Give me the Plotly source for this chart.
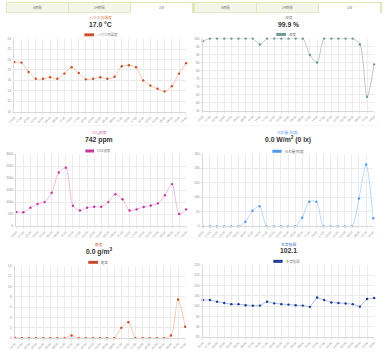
import plotly.graph_objects as go

W, H = 384, 353

# ---------------- data ----------------
time_labels = ["14:00", "17:00", "20:00", "23:00", "02:00", "05:00", "08:00", "11:00",
               "14:00", "17:00", "20:00", "23:00", "02:00", "05:00", "08:00", "11:00",
               "14:00", "17:00", "20:00", "23:00", "02:00", "05:00", "08:00", "11:00",
               "14:00"]
tab_labels = ["6時間", "24時間", "3日"]

temperature = [19.5, 19.4, 17.6, 16.3, 16.3, 16.6, 16.3, 17.3, 18.5, 17.4, 16.2, 16.3, 16.6,
               16.3, 16.7, 18.7, 18.9, 18.5, 16.0, 15.0, 14.4, 13.9, 14.9, 17.3, 19.3]
humidity = [98.4, 100, 100, 100, 100, 100, 100, 100, 96.3, 100, 100, 100, 100,
            100, 100, 89.8, 85.1, 100, 100, 100, 100, 100, 96.3, 63.7, 83.9]
co2 = [600, 590, 780, 930, 1010, 1400, 2240, 2440, 860, 660, 780, 820, 820,
       1010, 1340, 1130, 660, 710, 810, 870, 960, 1300, 1760, 520, 710]
solar = [0, 0, 0, 0, 0, 0, 16, 54, 69, 0, 0, 0, 0,
         0, 30, 85, 85, 0, 0, 0, 0, 0, 96, 213, 28]
deficit = [0.1, 0, 0, 0, 0, 0, 0, 0, 0.5, 0, 0, 0, 0,
           0, 0, 2.0, 3.1, 0, 0, 0, 0, 0, 0.5, 7.5, 2.2]
growth = [103.0, 103.0, 102.2, 101.6, 101.0, 101.0, 100.5, 100.2, 100.3, 102.2, 101.4, 101.0, 100.8,
          100.5, 100.3, 99.7, 104.2, 103.0, 101.8, 101.6, 101.3, 101.0, 99.8, 103.5, 104.0]

titles = ["ハウス内温度", "湿度", "CO<sub>2</sub>濃度", "日射量(照度)", "飽差", "生育指標"]
series_names = ["ハウス内温度", "湿度", "CO2濃度", "日射量(照度)", "飽差", "生育指標"]
current_values = ["17.0 °C", "99.9 %", "742 ppm", "0.0 W/m<sup>2</sup> (0 lx)",
                  "0.0 g/m<sup>3</sup>", "102.1"]
series = [temperature, humidity, co2, solar, deficit, growth]

# ---------------- styles ----------------
FONT = "Liberation Sans, Arial, Noto Sans CJK JP, sans-serif"
JFONT = "Noto Sans CJK JP, Liberation Sans, sans-serif"

styles = [
    dict(line="#f3c2a8", marker="#c9532c", title="#e0784a", yr=[10, 24], dt=2,
         area=(8.5, 184, 37, 111), ty=15.7, vy=22.7, cx=96, lb=(80, 90, 33.2), shape="spline"),
    dict(line="#bcc0bf", marker="#6f9994", title="#8a8a8a", yr=[55, 100], dt=5,
         area=(201, 376, 37, 110), ty=15.7, vy=22.7, cx=289, lb=(276, 286, 32.8), shape="spline"),
    dict(line="#ebb3dc", marker="#c4389d", title="#c865b4", yr=[0, 3000], dt=500,
         area=(10.5, 184, 154, 227), ty=132, vy=139.3, cx=95, lb=(81, 90, 150.7), shape="spline"),
    dict(line="#b5d4f7", marker="#4e98ee", title="#6ea5ef", yr=[0, 250], dt=50,
         area=(201, 375, 153.5, 227), ty=131.7, vy=139, cx=288, lb=(272, 281.5, 151), shape="spline"),
    dict(line="#f3c3ad", marker="#c8492a", title="#d2643f", yr=[0, 14], dt=2,
         area=(9, 183, 267, 340), ty=245, vy=252.7, cx=95, lb=(84, 94, 263.3), shape="spline"),
    dict(line="#aabbea", marker="#1f3a94", title="#4a6ac4", yr=[85, 120], dt=5,
         area=(201, 376, 266, 339), ty=245, vy=251.5, cx=288, lb=(273, 282.5, 262.3), shape="linear"),
]


def fx(x):
    return x / W


def fy(y):
    return 1 - y / H


fig = go.Figure()
shapes = []
annotations = []
xs = list(range(len(time_labels)))

for i, (data, st) in enumerate(zip(series, styles)):
    k = "" if i == 0 else str(i + 1)
    x0, x1, y0, y1 = st["area"]
    fig.add_trace(go.Scatter(
        x=xs, y=data, name=series_names[i], mode="lines+markers",
        line=dict(color=st["line"], width=0.9, shape=st["shape"], smoothing=0.8),
        marker=dict(color=st["marker"], size=2.4),
        xaxis="x" + k, yaxis="y" + k, showlegend=False, cliponaxis=False,
        hovertemplate="%{y}<extra></extra>",
    ))
    fig.layout["xaxis" + k] = dict(
        domain=[fx(x0), fx(x1)], anchor="y" + k, range=[0, len(xs) - 1],
        tickmode="array", tickvals=xs, ticktext=time_labels, tickangle=-45,
        tickfont=dict(size=3, color="#888", family=FONT),
        showgrid=True, gridcolor="#ececec", gridwidth=0.5,
        showline=True, linecolor="#d8d8d8", linewidth=0.6,
        ticks="outside", ticklen=2, tickcolor="#ececec", zeroline=False, fixedrange=True,
    )
    fig.layout["yaxis" + k] = dict(
        domain=[fy(y1), fy(y0)], anchor="x" + k, range=st["yr"], dtick=st["dt"],
        tickfont=dict(size=3, color="#888", family=FONT),
        showgrid=True, gridcolor="#ececec", gridwidth=0.5,
        showline=True, linecolor="#d8d8d8", linewidth=0.6,
        ticks="outside", ticklen=2, tickcolor="#ececec", zeroline=False, fixedrange=True,
    )
    # title and current value
    annotations.append(dict(x=fx(st["cx"]), y=fy(st["ty"]), xref="paper", yref="paper",
                            text=titles[i], showarrow=False, xanchor="center", yanchor="middle",
                            font=dict(size=3.8, color=st["title"], family=JFONT)))
    annotations.append(dict(x=fx(st["cx"]), y=fy(st["vy"]), xref="paper", yref="paper",
                            text=current_values[i], showarrow=False,
                            xanchor="center", yanchor="middle",
                            font=dict(size=6.8, color="#333", family=FONT, weight="bold")))
    # legend box + label
    bx0, bx1, by = st["lb"]
    shapes.append(dict(type="rect", xref="paper", yref="paper",
                       x0=fx(bx0), x1=fx(bx1), y0=fy(by + 1.5), y1=fy(by - 1.5),
                       fillcolor=st["marker"], line=dict(width=0)))
    annotations.append(dict(x=fx(bx1 + 1.2), y=fy(by), xref="paper", yref="paper",
                            text=series_names[i], showarrow=False, xanchor="left", yanchor="middle",
                            font=dict(size=3.4, color="#777", family=JFONT)))

# tab bars
for half in (0, 192):
    shapes.append(dict(type="rect", xref="paper", yref="paper",
                       x0=fx(half), x1=fx(half + 192), y0=fy(11), y1=fy(0),
                       fillcolor="#dde9b6", line=dict(width=0)))
    tab_w = 63.3
    for j, lab in enumerate(tab_labels):
        tx0 = half + 1 + j * tab_w
        tx1 = tx0 + tab_w - 1
        sel = (j == 2)
        shapes.append(dict(type="rect", xref="paper", yref="paper",
                           x0=fx(tx0), x1=fx(tx1), y0=fy(11 if sel else 10.3), y1=fy(1),
                           fillcolor="#ffffff" if sel else "#f3f6e9", line=dict(width=0)))
        annotations.append(dict(x=fx((tx0 + tx1) / 2), y=fy(5.8), xref="paper", yref="paper",
                                text=lab, showarrow=False, xanchor="center", yanchor="middle",
                                font=dict(size=3.4, color="#777", family=JFONT)))

# faint separators
for sy in (125, 238):
    for half in (0, 192):
        shapes.append(dict(type="line", xref="paper", yref="paper",
                           x0=fx(half + 4), x1=fx(half + 188), y0=fy(sy), y1=fy(sy),
                           line=dict(color="#f0f0f0", width=0.6)))

fig.update_layout(
    width=W, height=H, margin=dict(l=0, r=0, t=0, b=0),
    paper_bgcolor="#ffffff", plot_bgcolor="#ffffff",
    shapes=shapes, annotations=annotations, showlegend=False,
    font=dict(family=FONT),
)

fig.write_html("out.html", config={"displayModeBar": False})
